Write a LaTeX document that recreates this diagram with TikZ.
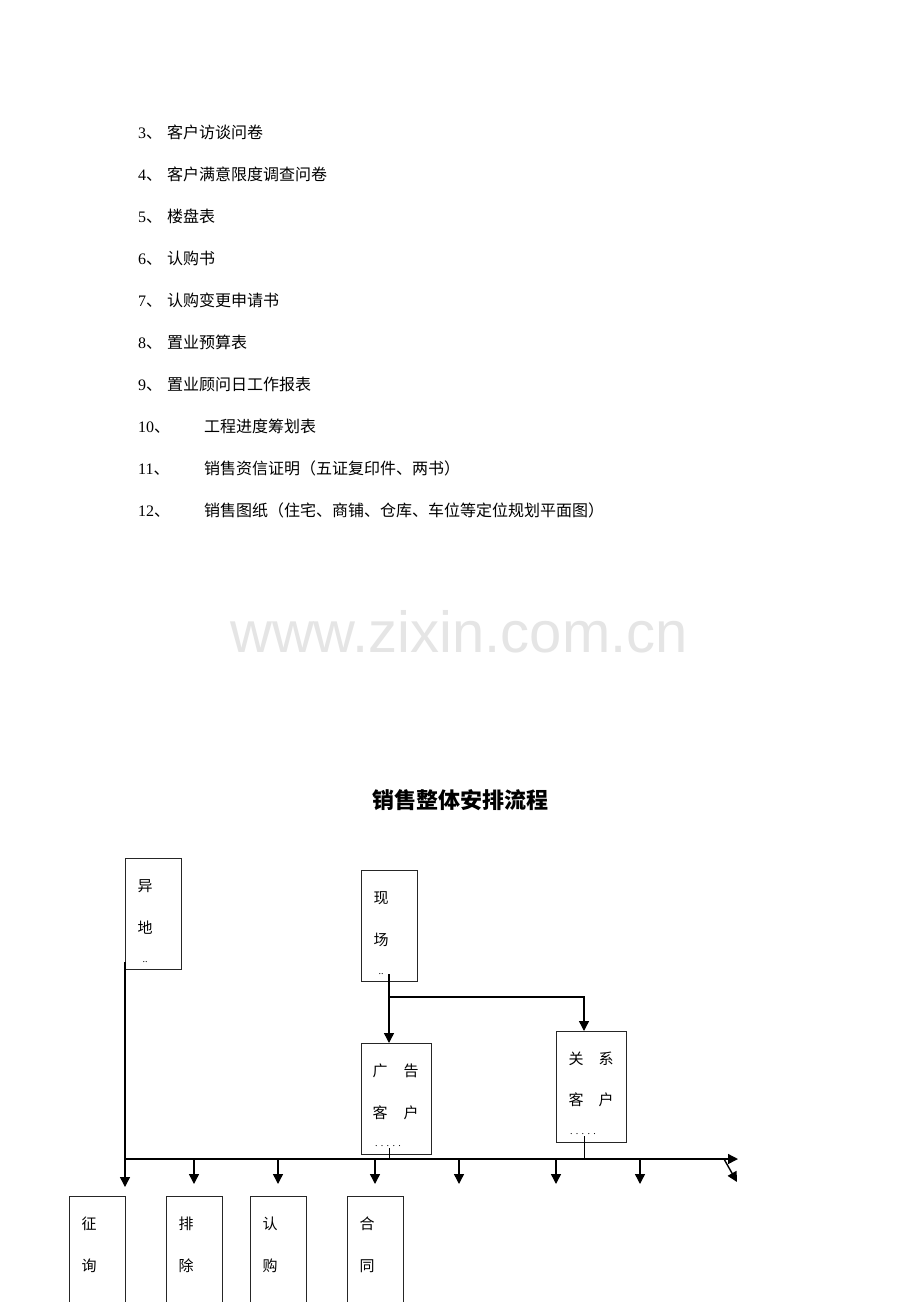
\documentclass[tikz,border=0pt]{standalone}
\usepackage{fontspec}
\setmainfont{Liberation Serif}
\newfontfamily\cjk{Noto Sans CJK SC}
\newfontfamily\wmfont{Liberation Sans}
\usetikzlibrary{arrows.meta}
\tikzset{
  box/.style={draw=black!85, line width=1pt, rectangle, inner sep=0pt, outer sep=0pt, anchor=north west},
  ch/.style={inner sep=0pt, font=\cjk\fontsize{15}{15}\selectfont},
  dots/.style={inner sep=0pt, font=\fontsize{10}{10}\selectfont},
  conn/.style={line width=1.4pt, draw=black},
  arr/.style={conn, -{Triangle[width=10pt,length=10pt]}},
  num/.style={inner sep=0pt, anchor=base west, font=\fontsize{16}{16}\selectfont},
  item/.style={inner sep=0pt, anchor=base west, font=\cjk\fontsize{16}{16}\selectfont},
}
\begin{document}
\begin{tikzpicture}[x=1pt,y=-1pt]
\clip (0,0) rectangle (920,1302);
\fill[white] (0,0) rectangle (920,1302);

% list
\node[num] (n3) at (138,138) {3\cjk 、};  \node[item] (t3) at (167,138) {客户访谈问卷};
\node[num] (n4) at (138,180) {4\cjk 、};  \node[item] (t4) at (167,180) {客户满意限度调查问卷};
\node[num] (n5) at (138,222) {5\cjk 、};  \node[item] (t5) at (167,222) {楼盘表};
\node[num] (n6) at (138,264) {6\cjk 、};  \node[item] (t6) at (167,264) {认购书};
\node[num] (n7) at (138,306) {7\cjk 、};  \node[item] (t7) at (167,306) {认购变更申请书};
\node[num] (n8) at (138,348) {8\cjk 、};  \node[item] (t8) at (167,348) {置业预算表};
\node[num] (n9) at (138,390) {9\cjk 、};  \node[item] (t9) at (167,390) {置业顾问日工作报表};
\node[num] (n10) at (138,432) {10\cjk 、}; \node[item] (t10) at (204,432) {工程进度筹划表};
\node[num] (n11) at (138,474) {11\cjk 、}; \node[item] (t11) at (204,474) {销售资信证明（五证复印件、两书）};
\node[num] (n12) at (138,516) {12\cjk 、}; \node[item] (t12) at (204,516) {销售图纸（住宅、商铺、仓库、车位等定位规划平面图）};

% watermark
\node[inner sep=0pt, anchor=base, text=black!10, font=\wmfont\fontsize{58}{58}\selectfont] (wm) at (459,652) {www.zixin.com.cn};

% title
\node[inner sep=0pt, anchor=base, font=\cjk\bfseries\fontsize{22}{22}\selectfont] (title) at (460,808) {销售整体安排流程};

% top boxes
\node[box, minimum width=56pt, minimum height=111pt] (yd) at (125,858) {};
\node[ch] at (145,886) {异}; \node[ch] at (145,928) {地}; \node[dots] at (145,962) {..};

\node[box, minimum width=56pt, minimum height=111pt] (xc) at (361,870) {};
\node[ch] at (381,898) {现}; \node[ch] at (381,940) {场}; \node[dots] at (381,974) {..};

\node[box, minimum width=70pt, minimum height=111pt] (gg) at (361,1043) {};
\node[ch] at (380,1071) {广}; \node[ch] at (411,1071) {告};
\node[ch] at (380,1113) {客}; \node[ch] at (411,1113) {户};
\node[dots] at (388,1146) {. . . . .};

\node[box, minimum width=70pt, minimum height=111pt] (gx) at (556,1031) {};
\node[ch] at (576,1059) {关}; \node[ch] at (606,1059) {系};
\node[ch] at (576,1100) {客}; \node[ch] at (606,1100) {户};
\node[dots] at (583,1134) {. . . . .};

% bottom boxes
\node[box, minimum width=56pt, minimum height=140pt] (zx) at (69,1196) {};
\node[ch] at (89,1224) {征}; \node[ch] at (89,1266) {询};
\node[box, minimum width=56pt, minimum height=140pt] (pc) at (166,1196) {};
\node[ch] at (186,1224) {排}; \node[ch] at (186,1266) {除};
\node[box, minimum width=56pt, minimum height=140pt] (rg) at (250,1196) {};
\node[ch] at (270,1224) {认}; \node[ch] at (270,1266) {购};
\node[box, minimum width=56pt, minimum height=140pt] (ht) at (347,1196) {};
\node[ch] at (367,1224) {合}; \node[ch] at (367,1266) {同};

% coordinates
\coordinate (m0) at (125,1159);
\coordinate (mend) at (738,1159);
\coordinate (br) at (389,997);
\coordinate (gxc) at (584,997);
\coordinate (dg0) at (724,1159);
\coordinate (dg1) at (737,1182);
\coordinate (d5) at (459,1184);
\coordinate (d6) at (556,1184);
\coordinate (d7) at (640,1184);

% connectors
\draw[arr] ([yshift=7pt]yd.south west) -- ([yshift=9pt]zx.north east);
\draw[arr] (m0) -- (mend);
\draw[arr] (dg0) -- (dg1);
\draw[arr] ([yshift=7pt]xc.south -| br) -- (gg.north -| br);
\draw[arr] (br) -- (gxc) -- (gx.north -| gxc);
\draw[conn, line width=1pt] ([yshift=6pt]gg.south -| br) -- (m0 -| br);
\draw[conn, line width=1pt] ([yshift=6pt]gx.south -| gxc) -- (m0 -| gxc);
\draw[arr] (m0 -| pc.north) -- ([yshift=12pt]pc.north);
\draw[arr] (m0 -| rg.north) -- ([yshift=12pt]rg.north);
\draw[arr] (m0 -| ht.north) -- ([yshift=12pt]ht.north);
\draw[arr] (m0 -| d5) -- (d5);
\draw[arr] (m0 -| d6) -- (d6);
\draw[arr] (m0 -| d7) -- (d7);
\end{tikzpicture}
\end{document}
